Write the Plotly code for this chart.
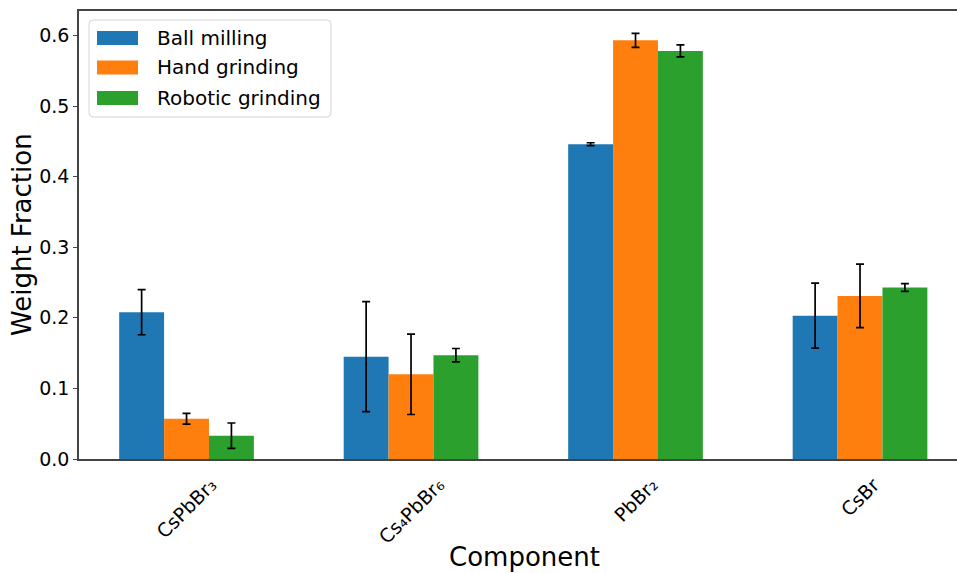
import plotly.graph_objects as go

categories = ["CsPbBr₃", "Cs₄PbBr₆", "PbBr₂", "CsBr"]
series_names = ["Ball milling", "Hand grinding", "Robotic grinding"]
ball_vals = [0.208, 0.145, 0.446, 0.203]
ball_err = [0.032, 0.078, 0.002, 0.046]
hand_vals = [0.057, 0.120, 0.593, 0.231]
hand_err = [0.0075, 0.057, 0.010, 0.045]
robot_vals = [0.033, 0.147, 0.578, 0.243]
robot_err = [0.018, 0.0095, 0.0085, 0.0055]
colors = ["#1f77b4", "#ff7f0e", "#2ca02c"]
y_ticks = [0.0, 0.1, 0.2, 0.3, 0.4, 0.5, 0.6]

values = [ball_vals, hand_vals, robot_vals]
errors = [ball_err, hand_err, robot_err]

font_family = "DejaVu Sans"
W, H = 957, 573
L, R, T, B = 79, 0, 11, 114
PW, PH = W - L - R, H - T - B


def px2x(px):
    return (px - L) / PW


def px2y(py):
    return 1 - (py - T) / PH


fig = go.Figure()
for name, v, e, c in zip(series_names, values, errors, colors):
    fig.add_trace(go.Bar(
        x=categories, y=v, name=name,
        marker=dict(color=c, line=dict(width=0)),
        error_y=dict(type="data", array=e, visible=True, color="black",
                     thickness=1.7, width=4),
        showlegend=False,
    ))

annotations = [
    dict(text="Component", xref="paper", yref="paper",
         x=px2x(524), y=px2y(557),
         xanchor="center", yanchor="middle", showarrow=False,
         font=dict(size=26, family=font_family, color="black")),
    dict(text="Weight Fraction", xref="paper", yref="paper",
         x=px2x(22), y=0.5, textangle=-90,
         xanchor="center", yanchor="middle", showarrow=False,
         font=dict(size=26, family=font_family, color="black")),
]
# rotated category labels (centred under each group, like matplotlib ha='center')
for cat in categories:
    annotations.append(dict(
        text=cat, xref="x", yref="paper", x=cat, y=px2y(471),
        xanchor="center", yanchor="top", textangle=-45, showarrow=False,
        font=dict(size=19, family=font_family, color="black")))

# legend drawn matplotlib-style
shapes = []
bx0, bx1, by0, by1, rr = 89, 331, 20, 117, 4
path = (f"M {px2x(bx0 + rr)},{px2y(by0)} L {px2x(bx1 - rr)},{px2y(by0)} "
        f"Q {px2x(bx1)},{px2y(by0)} {px2x(bx1)},{px2y(by0 + rr)} "
        f"L {px2x(bx1)},{px2y(by1 - rr)} Q {px2x(bx1)},{px2y(by1)} {px2x(bx1 - rr)},{px2y(by1)} "
        f"L {px2x(bx0 + rr)},{px2y(by1)} Q {px2x(bx0)},{px2y(by1)} {px2x(bx0)},{px2y(by1 - rr)} "
        f"L {px2x(bx0)},{px2y(by0 + rr)} Q {px2x(bx0)},{px2y(by0)} {px2x(bx0 + rr)},{px2y(by0)} Z")
shapes.append(dict(type="path", xref="paper", yref="paper", path=path,
                   fillcolor="rgba(255,255,255,0.8)", line=dict(color="#d4d4d4", width=1),
                   layer="above"))
row_y = [38, 67.5, 98]
for name, c, yc in zip(series_names, colors, row_y):
    shapes.append(dict(type="rect", xref="paper", yref="paper",
                       x0=px2x(97), x1=px2x(138), y0=px2y(yc - 7), y1=px2y(yc + 7),
                       fillcolor=c, line=dict(width=0), layer="above"))
    annotations.append(dict(text=name, xref="paper", yref="paper",
                            x=px2x(155), y=px2y(yc), xanchor="left", yanchor="middle",
                            showarrow=False,
                            font=dict(size=20, family=font_family, color="black")))

fig.update_layout(
    width=W, height=H,
    margin=dict(l=L, r=R, t=T, b=B, autoexpand=False),
    plot_bgcolor="white", paper_bgcolor="white",
    barmode="group", bargap=0.4, bargroupgap=0,
    font=dict(family=font_family, color="black"),
    showlegend=False,
    annotations=annotations,
    shapes=shapes,
)
fig.update_xaxes(
    range=[-0.479, 3.432], automargin=False,
    showline=True, linecolor="#444", linewidth=1.5, mirror=True,
    ticks="", showticklabels=False,
    showgrid=False, zeroline=False,
)
fig.update_yaxes(
    range=[0, 0.6346], automargin=False,
    tickvals=y_ticks, ticktext=[f"{t:.1f}" for t in y_ticks],
    showline=True, linecolor="#444", linewidth=1.5, mirror=False,
    ticks="outside", ticklen=4, tickwidth=1.2, tickcolor="#444",
    tickfont=dict(size=19, family=font_family),
    showgrid=False, zeroline=False,
)
fig.write_html("out.html", config={"displayModeBar": False},
               post_script="document.body.style.margin='0';document.body.style.overflow='hidden';")
